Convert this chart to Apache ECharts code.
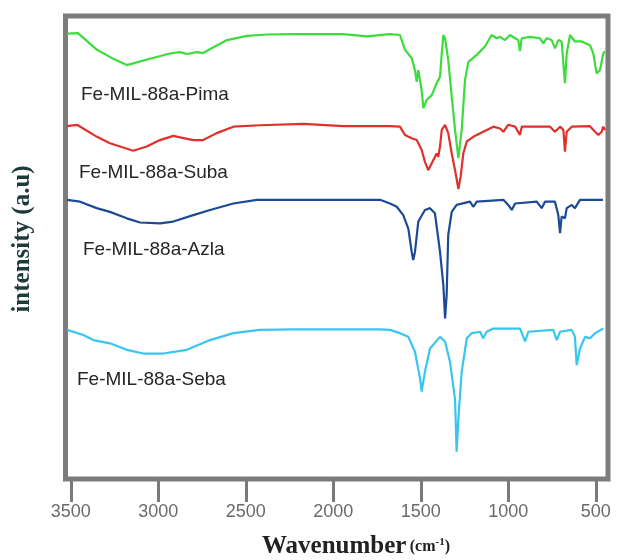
<!DOCTYPE html>
<html>
<head>
<meta charset="utf-8">
<script src="https://cdn.jsdelivr.net/npm/echarts@6/dist/echarts.min.js"></script>
<style>
html,body{margin:0;padding:0;background:#fff;}
#chart{width:618px;height:560px;}
</style>
</head>
<body>
<div id="chart"></div>
<script>
// Wavenumber (cm-1) tick labels
const xTicks = [3500, 3000, 2500, 2000, 1500, 1000, 500];
const seriesNames = ['Fe-MIL-88a-Pima', 'Fe-MIL-88a-Suba', 'Fe-MIL-88a-Azla', 'Fe-MIL-88a-Seba'];

// [wavenumber, intensity (a.u., stacked offset)]
const pima = [[3521,96.2],[3459,96.3],[3350,92.7],[3264,90.9],[3179,89.4],[3064,90.6],[2933,91.9],[2876,92.2],[2836,91.8],[2779,92.2],[2744,92.0],[2687,93.2],[2607,94.8],[2493,95.7],[2379,96.0],[2230,96.1],[1944,96.1],[1807,95.6],[1676,96.1],[1619,95.9],[1590,92.7],[1552,90.9],[1533,88.3],[1523,85.8],[1514,88.3],[1495,84.0],[1485,80.1],[1466,81.9],[1437,82.9],[1409,85.5],[1390,86.9],[1380,91.9],[1371,95.9],[1361,95.2],[1343,90.5],[1323,82.6],[1304,75.4],[1285,69.3],[1266,75.4],[1247,86.2],[1228,90.1],[1180,91.6],[1133,93.4],[1095,95.9],[1066,95.2],[1047,95.5],[1019,94.8],[990,95.9],[961,95.2],[943,94.8],[933,92.4],[923,95.2],[876,95.5],[819,95.2],[800,94.1],[780,95.2],[752,94.8],[733,93.0],[714,94.8],[695,94.5],[676,85.5],[666,91.9],[647,95.9],[619,94.5],[580,94.5],[533,93.7],[514,91.9],[495,87.6],[476,88.3],[457,91.9],[447,92.4]];

const suba = [[3521,76.2],[3464,76.5],[3350,73.9],[3276,72.5],[3143,70.9],[3066,71.8],[2990,73.2],[2914,74.1],[2876,73.8],[2800,73.2],[2743,73.2],[2666,74.7],[2571,76.1],[2419,76.4],[2171,76.7],[1943,76.2],[1676,76.2],[1619,76.1],[1590,74.3],[1552,73.6],[1523,73.2],[1495,71.1],[1476,68.5],[1457,66.7],[1428,68.9],[1409,70.3],[1400,69.6],[1390,71.8],[1380,75.4],[1361,76.5],[1343,74.7],[1323,70.3],[1304,66.7],[1285,62.6],[1272,65.3],[1257,70.3],[1237,72.9],[1200,73.9],[1143,75.0],[1085,76.1],[1047,75.7],[1028,75.0],[1000,76.5],[961,76.1],[933,74.3],[923,76.1],[837,76.1],[761,76.1],[733,75.0],[704,76.1],[685,75.4],[676,70.7],[666,75.0],[637,76.1],[533,76.2],[504,75.0],[485,74.3],[466,75.0],[457,76.1],[447,75.4]];

const azla = [[3521,60.3],[3447,59.9],[3352,58.5],[3276,57.7],[3180,56.3],[3104,55.4],[2990,55.2],[2914,55.6],[2800,57.0],[2704,58.1],[2571,59.5],[2437,60.3],[2228,60.3],[1733,60.3],[1676,59.5],[1637,58.8],[1600,57.0],[1571,54.1],[1552,49.1],[1543,47.3],[1533,49.1],[1514,55.6],[1476,58.1],[1447,58.5],[1419,57.4],[1390,49.1],[1371,41.9],[1361,34.7],[1352,39.7],[1343,52.7],[1323,57.7],[1295,59.2],[1219,59.9],[1200,58.8],[1180,59.9],[1028,60.3],[1000,59.2],[980,58.1],[961,59.5],[837,59.9],[809,58.5],[790,59.9],[733,59.9],[714,57.0],[704,53.1],[695,56.7],[676,56.3],[666,58.5],[637,59.2],[619,58.5],[590,60.3],[459,60.3]];

const seba = [[3521,32.2],[3428,31.1],[3371,30.0],[3276,29.3],[3180,27.9],[3085,27.1],[2971,27.1],[2837,27.9],[2704,30.0],[2571,31.5],[2419,32.2],[2228,32.3],[1733,32.3],[1676,32.2],[1619,31.5],[1571,30.7],[1533,27.5],[1504,21.7],[1495,18.9],[1476,23.2],[1447,28.2],[1390,30.7],[1361,29.7],[1333,25.3],[1304,17.2],[1295,5.9],[1285,13.1],[1266,23.2],[1237,30.4],[1209,31.5],[1161,31.8],[1143,30.4],[1123,31.8],[1085,32.5],[933,32.5],[914,30.7],[904,29.7],[885,31.8],[743,32.2],[723,30.0],[704,31.8],[637,32.2],[619,30.7],[609,24.6],[590,28.2],[561,30.7],[533,30.4],[504,31.5],[457,32.5]];

const colors = ['#3ddc3d', '#e0302c', '#1d4a95', '#38c6ee'];
const allData = [pima, suba, azla, seba];
const labelPos = [[81, 95], [79, 173], [83, 250], [77, 380]];

const chart = echarts.init(document.getElementById('chart'), null, {renderer: 'canvas'});

const graphics = seriesNames.map((n, i) => ({
  type: 'text', x: labelPos[i][0], y: labelPos[i][1], z: 10,
  style: { text: n, font: '19px "Liberation Sans", Arial, sans-serif', fill: '#262626', verticalAlign: 'middle', align: 'left' }
}));
graphics.push({
  type: 'text', x: 23, y: 239, rotation: Math.PI / 2, z: 10,
  style: { text: 'intensity (a.u)', font: 'bold 25px "Liberation Serif", "Times New Roman", serif', fill: '#1d3b3b', align: 'center', verticalAlign: 'middle' }
});
graphics.push({
  type: 'text', x: 262, y: 547, z: 10,
  style: {
    text: '{a|Wavenumber} {b|(cm}{c|-1}{b|)}',
    align: 'left', verticalAlign: 'middle',
    rich: {
      a: { font: 'bold 25px "Liberation Serif", "Times New Roman", serif', fill: '#222' },
      b: { font: 'bold 16px "Liberation Serif", "Times New Roman", serif', fill: '#222' },
      c: { font: 'bold 11px "Liberation Serif", "Times New Roman", serif', fill: '#222', padding: [0, 0, 9, 0] }
    }
  }
});

chart.setOption({
  animation: false,
  backgroundColor: '#fff',
  grid: { left: 65.5, right: 10, top: 16, bottom: 81, show: true, borderColor: '#7c7c7c', borderWidth: 5, backgroundColor: 'transparent' },
  xAxis: {
    type: 'value', inverse: true, min: 430, max: 3530,
    axisLine: { show: false },
    splitLine: { show: false },
    axisTick: { show: true, customValues: xTicks, length: 23, lineStyle: { color: '#7a7a7a', width: 3 } },
    axisLabel: { show: true, customValues: xTicks, margin: 24, fontSize: 18, color: '#6a6a6a', fontFamily: '"Liberation Sans", Arial, sans-serif', formatter: v => String(v) }
  },
  yAxis: {
    type: 'value', min: 0, max: 100,
    axisLine: { show: false }, axisTick: { show: false }, axisLabel: { show: false }, splitLine: { show: false }
  },
  graphic: graphics,
  series: allData.map((d, i) => ({
    type: 'line', name: seriesNames[i], data: d, showSymbol: false, clip: true,
    lineStyle: { color: colors[i], width: 2.2 }, smooth: false
  }))
});
</script>
</body>
</html>
